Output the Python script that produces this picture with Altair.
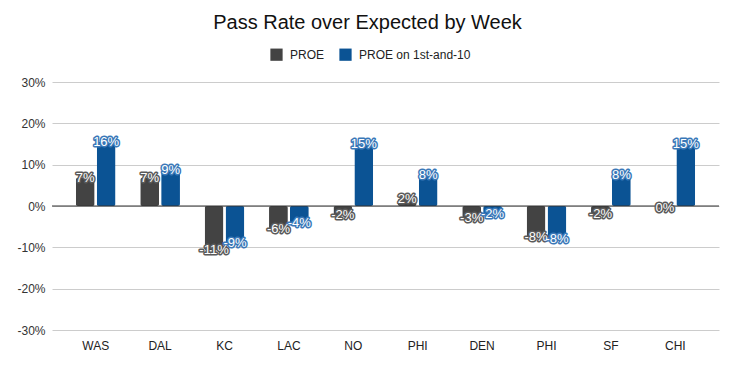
import altair as alt
import pandas as pd

teams = ["WAS", "DAL", "KC", "LAC", "NO", "PHI", "DEN", "PHI", "SF", "CHI"]
proe = [0.068, 0.068, -0.107, -0.056, -0.022, 0.017, -0.029, -0.075, -0.020, -0.004]
proe_1st10 = [0.155, 0.086, -0.090, -0.041, 0.149, 0.075, -0.020, -0.080, 0.076, 0.149]
series_names = ["PROE", "PROE on 1st-and-10"]
colors = ["#434343", "#0b5394"]
halo = ["#5a5a5a", "#3a78b8"]

rows = []
for i, t in enumerate(teams):
    rows.append({"idx": i, "team": t, "series": series_names[0], "value": proe[i]})
    rows.append({"idx": i, "team": t, "series": series_names[1], "value": proe_1st10[i]})
df = pd.DataFrame(rows)

label_expr = "[" + ",".join("'%s'" % t for t in teams) + "][datum.value]"

x_enc = alt.X(
    "idx:O",
    title=None,
    scale=alt.Scale(paddingInner=0.383, paddingOuter=0.37),
    axis=alt.Axis(labelExpr=label_expr, labelAngle=0, domain=False, ticks=False,
                  labelFontSize=12, labelColor="#222222", labelPadding=10,
                  labelFont="Liberation Sans"),
)
xoff = alt.XOffset("series:N", sort=series_names, scale=alt.Scale(paddingInner=0.1))
y_enc = alt.Y(
    "value:Q",
    title=None,
    scale=alt.Scale(domain=[-0.3, 0.3], nice=False),
    axis=alt.Axis(values=[-0.3, -0.2, -0.1, 0, 0.1, 0.2, 0.3],
                  labelExpr="replace(format(datum.value, '.0%'), '\u2212', '-')",
                  domain=False, ticks=False, gridColor="#cccccc", labelFontSize=12,
                  labelColor="#333333", labelPadding=7, labelFont="Liberation Sans"),
)

base = alt.Chart(df).transform_calculate(
    label="replace(format(datum.value, '.0%'), '\u2212', '-')"
)

bars = base.mark_bar(cornerRadius=2).encode(
    x=x_enc, xOffset=xoff, y=y_enc,
    color=alt.Color("series:N", sort=series_names,
                    scale=alt.Scale(domain=series_names, range=colors),
                    legend=alt.Legend(title=None, orient="none", direction="horizontal",
                                      legendX=218, legendY=-34,
                                      symbolType="square", symbolSize=150,
                                      symbolStrokeWidth=0,
                                      labelFontSize=12, labelFont="Liberation Sans",
                                      labelColor="#222222", columnPadding=14,
                                      labelOffset=7)),
)

zero = alt.Chart(pd.DataFrame({"z": [0]})).mark_rule(color="#333333", strokeWidth=1).encode(y="z:Q")

txt_outline = base.mark_text(baseline="middle", align="center", fontSize=13,
                             font="Liberation Sans", strokeWidth=3,
                             strokeJoin="round", fill=None).encode(
    x=x_enc, xOffset=xoff, y=y_enc,
    text="label:N",
    stroke=alt.Stroke("series:N", scale=alt.Scale(domain=series_names, range=halo), legend=None),
)
txt = base.mark_text(baseline="middle", align="center", fontSize=13,
                     font="Liberation Sans", color="white").encode(
    x=x_enc, xOffset=xoff, y=y_enc,
    text="label:N",
)

chart = alt.layer(bars, zero, txt_outline, txt).properties(
    width=720, height=352,
    padding={"left": 8, "right": 8, "top": 5, "bottom": 9},
    autosize=alt.AutoSizeParams(type="fit", contains="padding"),
    title=alt.Title("Pass Rate over Expected by Week", fontSize=20, fontWeight="normal",
                    font="Liberation Sans", color="#111111", anchor="middle", offset=43,
                    dx=-18),
).configure_view(stroke=None)

chart.save("out.html", embed_options={"renderer": "svg", "actions": False})
